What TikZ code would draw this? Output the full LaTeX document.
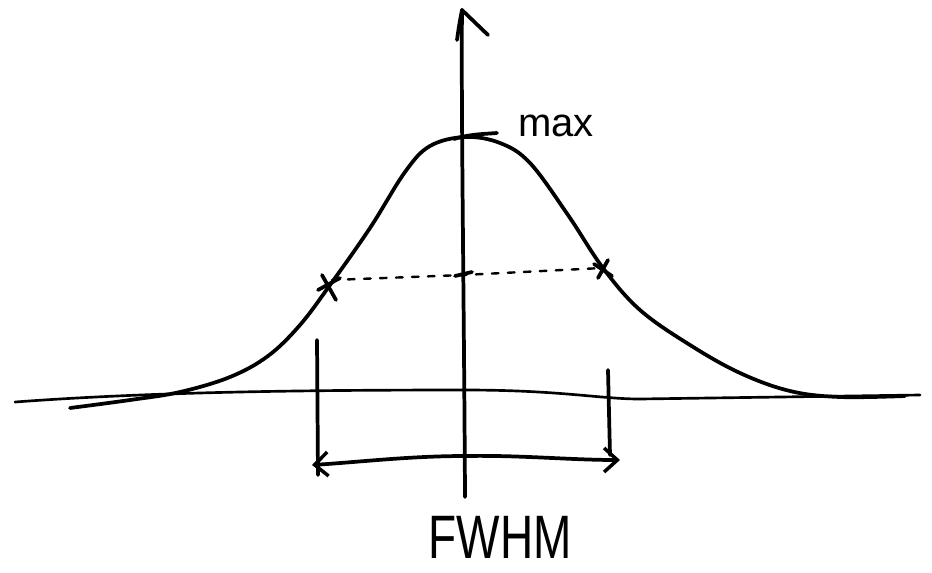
\documentclass[tikz,border=0pt]{standalone}
\usepackage{fontspec}
\setmainfont{Liberation Sans}
\usetikzlibrary{arrows.meta}
\tikzset{
  ink/.style={line width=2.8pt, line cap=round, line join=round, black},
  thinink/.style={line width=2pt, line cap=round, black},
  halfdash/.style={line width=1.8pt, line cap=round, dash pattern=on 5pt off 7pt},
  openhead/.style={-{Straight Barb[length=10pt,width=18pt,line width=2.6pt]}},
}
\begin{document}
\begin{tikzpicture}[x=0.75pt,y=-0.75pt]
\useasboundingbox (0,0) rectangle (932,572);
% axes
\coordinate (ybot) at (465,497);
\coordinate (ytop) at (462,10);
\draw[ink] (ybot) .. controls (464,300) and (461,100) .. (ytop);
\draw[ink] (457,40) .. controls (459,25) and (461,15) .. (ytop) -- (488,35);
\coordinate (xl) at (15,402);
\coordinate (xr) at (920,395);
\draw[thinink] (xl) .. controls (150,392) and (300,390) .. (465,390)
  .. controls (560,390) and (600,399) .. (640,399) -- (xr);
% gaussian
\draw[ink] plot[smooth,tension=0.6] coordinates {(70,408) (130,400) (180,392) (230,377) (268,356) (300,325) (330,285) (370,228) (405,172) (430,146) (465,137) (500,143) (530,163) (568,215) (603,268) (640,310) (690,345) (740,373) (790,391) (840,397) (905,396)};
% half max
\coordinate (hl) at (332,280);
\coordinate (hc) at (463,275);
\coordinate (hr) at (602,268);
\draw[halfdash] (hl) -- (hc) -- (hr);
\draw[ink] (322,275) -- (336,300);
\draw[ink] (318,290) -- (340,278);
\draw[ink] (455,276) -- (472,272);
\draw[ink] (598,278) -- (608,260);
\draw[ink] (594,264) -- (612,276);
% max tick
\draw[ink] (454,139) .. controls (470,134) and (485,134) .. (497,133);
\node[font=\fontsize{30}{34}\selectfont, anchor=center] (maxlbl) at (556,126) {max};
% FWHM bars
\coordinate (lb1) at (317,340);
\coordinate (lb2) at (318,475);
\coordinate (rb1) at (608,370);
\coordinate (rb2) at (610,455);
\draw[ink] (lb1) -- (lb2);
\draw[ink] (rb1) -- (rb2);
\coordinate (al) at (312,465);
\coordinate (ar) at (620,460);
\coordinate (am) at (465,456);
\draw[ink,openhead] (am) .. controls (410,456) and (360,462) .. (al);
\draw[ink,openhead] (am) .. controls (520,455) and (570,460) .. (ar);
\node[font=\fontsize{46}{52}\selectfont, xscale=0.75, anchor=base, inner sep=0pt] (fwhm) at (500,558) {FWHM};
\end{tikzpicture}
\end{document}
